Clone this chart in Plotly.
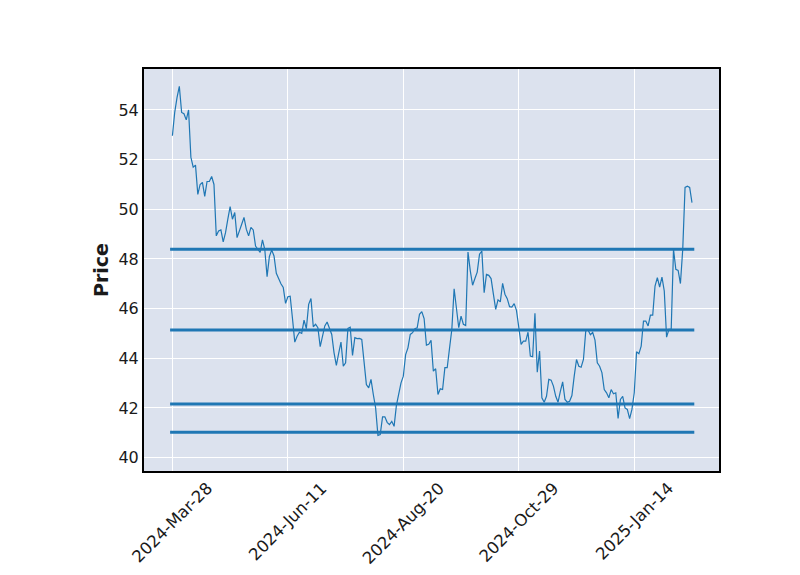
import plotly.graph_objects as go

# Closing prices, one per trading day starting 2024-03-28
close_prices = [
    52.96, 53.9, 54.5, 54.95, 53.9, 53.85, 53.6, 54.0, 52.1, 51.7,
    51.78, 50.6, 51.0, 51.08, 50.52, 51.12, 51.12, 51.32, 51.0, 48.93,
    49.13, 49.17, 48.69, 49.06, 49.6, 50.11, 49.6, 49.87, 48.86, 49.09,
    49.4, 49.67, 49.2, 48.93, 49.27, 49.17, 48.52, 48.39, 48.26, 48.77,
    48.39, 47.29, 48.1, 48.36, 48.12, 47.42, 47.18, 47.0, 46.85, 46.21,
    46.48, 46.5, 45.6, 44.65, 44.89, 45.05, 45.0, 45.54, 45.19, 46.17,
    46.41, 45.27, 45.37, 45.23, 44.47, 44.83, 45.3, 45.46, 45.16, 44.96,
    44.22, 43.71, 44.2, 44.65, 43.68, 43.82, 45.2, 45.25, 44.11, 44.83,
    44.79, 44.8, 44.76, 43.68, 42.94, 42.81, 43.15, 42.54, 42.0, 40.89,
    40.93, 41.64, 41.64, 41.42, 41.33, 41.46, 41.26, 42.1, 42.54, 43.01,
    43.28, 44.15, 44.42, 44.96, 45.03, 45.19, 45.23, 45.77, 45.88, 45.6,
    44.53, 44.56, 44.72, 43.48, 43.58, 42.54, 42.77, 42.74, 43.62, 43.62,
    44.4, 45.16, 46.8, 46.1, 45.23, 45.7, 45.37, 45.32, 48.28, 47.52,
    46.94, 47.21, 47.47, 48.19, 48.32, 46.64, 47.38, 47.34, 47.21, 46.58,
    45.97, 46.35, 46.27, 47.02, 46.58, 46.4, 46.08, 46.06, 46.2, 45.93,
    45.3, 44.56, 44.69, 44.69, 45.05, 44.09, 44.06, 45.81, 43.44, 44.29,
    42.41, 42.23, 42.47, 43.15, 43.12, 42.88, 42.47, 42.23, 42.67, 43.05,
    42.34, 42.23, 42.27, 42.5, 43.28, 43.95, 43.68, 43.64, 43.95, 45.1,
    45.14, 44.95, 45.04, 44.73, 43.82, 43.68, 43.42, 42.74, 42.61, 42.41,
    42.74, 42.57, 42.61, 41.58, 42.34, 42.47, 42.0, 41.94, 41.57, 41.94,
    42.61, 44.26, 44.18, 44.49, 45.5, 45.5, 45.3, 45.74, 45.74, 46.91,
    47.25, 46.87, 47.27, 46.71, 44.85, 45.16, 45.16, 48.39, 47.58, 47.54,
    47.01, 48.39, 50.88, 50.93, 50.88, 50.27,
]

# Horizontal support / resistance levels
hline_levels = [48.39, 45.14, 42.16, 41.02]

# X tick labels (every 50 trading days)
tick_positions = [0, 50, 100, 150, 200]
tick_labels = ["2024-Mar-28", "2024-Jun-11", "2024-Aug-20", "2024-Oct-29", "2025-Jan-14"]

y_ticks = [40, 42, 44, 46, 48, 50, 52, 54]

idx = list(range(len(close_prices)))

fig = go.Figure()

for lvl in hline_levels:
    fig.add_trace(go.Scatter(
        x=[idx[0] - 1, idx[-1] + 1], y=[lvl, lvl], mode="lines",
        line=dict(color="#1f77b4", width=3), hoverinfo="skip", showlegend=False,
    ))

fig.add_trace(go.Scatter(
    x=idx, y=close_prices, mode="lines",
    line=dict(color="#1f77b4", width=1.2), showlegend=False,
))

# Rotated x tick labels centred under each tick (matplotlib style)
for pos, lab in zip(tick_positions, tick_labels):
    fig.add_annotation(
        x=pos, xref="x", y=0, yref="paper", yanchor="top", xanchor="center",
        yshift=-5, text=lab, textangle=-45, showarrow=False,
        font=dict(family="DejaVu Sans", size=16.5, color="#1a1a1a"),
    )

fig.update_layout(
    width=800, height=575,
    margin=dict(l=144, r=81, t=69, b=104),
    paper_bgcolor="white",
    plot_bgcolor="#dce2ee",
    font=dict(family="DejaVu Sans", size=16, color="#1a1a1a"),
    showlegend=False,
)

fig.update_xaxes(
    range=[-12.3, 236.7],
    tickmode="array", tickvals=tick_positions, showticklabels=False,
    showgrid=True, gridcolor="white", gridwidth=1,
    zeroline=False, showline=True, linecolor="black", linewidth=2, mirror=True,
    ticks="",
)
fig.update_yaxes(
    range=[39.46, 55.65],
    tickmode="array", tickvals=y_ticks,
    showgrid=True, gridcolor="white", gridwidth=1,
    zeroline=False, showline=True, linecolor="black", linewidth=2, mirror=True,
    ticks="", tickfont=dict(size=16),
    title=dict(text="<b>Price</b>", font=dict(size=19), standoff=5),
)

fig.write_html("out.html")
